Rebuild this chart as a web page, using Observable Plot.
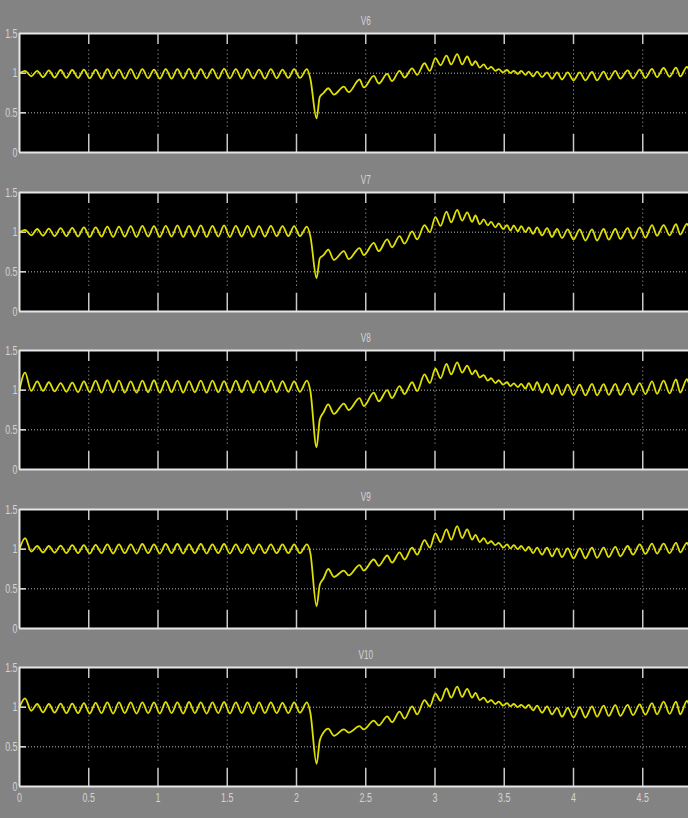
<!DOCTYPE html>
<html>
<head>
<meta charset="utf-8">
<script src="https://cdn.jsdelivr.net/npm/d3@7"></script>
<script src="https://cdn.jsdelivr.net/npm/@observablehq/plot@0.6"></script>
<style>
  html, body { margin: 0; padding: 0; background: #838383; }
  #chart { width: 688px; height: 818px; overflow: hidden; background: #838383; }
  #chart svg { display: block; }
</style>
</head>
<body>
<div id="chart"></div>
<script>
// ---- Data ----
const seriesNames = ["V6", "V7", "V8", "V9", "V10"];
const xTicks = [0, 0.5, 1, 1.5, 2, 2.5, 3, 3.5, 4, 4.5];
const xTickLabels = ["0", "0.5", "1", "1.5", "2", "2.5", "3", "3.5", "4", "4.5"];
const yTicks = [0, 0.5, 1, 1.5];
const yTickLabels = ["0", "0.5", "1", "1.5"];
const gridY = [0.5, 1];

// time (s) of each read-off extremum, shared by all five traces
const times = [
  0, 0.040, 0.085,
  0.128, 0.170, 0.212, 0.254, 0.297, 0.339, 0.381, 0.423, 0.465, 0.507, 0.550, 0.592, 0.634, 0.676, 0.718, 0.760, 0.803, 0.845, 0.887, 0.929, 0.971, 1.013,
  1.056, 1.098, 1.140, 1.182, 1.224, 1.266, 1.309, 1.351, 1.393, 1.435, 1.477, 1.519, 1.562, 1.604, 1.646, 1.688, 1.730, 1.772, 1.815, 1.857, 1.899, 1.941, 1.983, 2.025,
  2.075,
  2.100, 2.145, 2.168, 2.195,
  2.229, 2.270, 2.342, 2.377, 2.455, 2.486, 2.558, 2.594, 2.655, 2.690,
  2.744, 2.780, 2.835, 2.871, 2.924, 2.963, 3.003, 3.040, 3.083, 3.117,
  3.160, 3.196, 3.232, 3.268, 3.292, 3.323, 3.352, 3.381, 3.405, 3.436,
  3.460, 3.492, 3.520, 3.545, 3.569, 3.598, 3.622, 3.653, 3.677, 3.708,
  3.737, 3.773, 3.809, 3.845, 3.881, 3.917, 3.958, 4.000, 4.045, 4.086,
  4.134, 4.170, 4.218, 4.254, 4.302, 4.338, 4.391, 4.430, 4.478, 4.519,
  4.567, 4.603, 4.651, 4.694, 4.740, 4.771, 4.819, 4.830
];

const v6 = [
  1.00, 1.03, 0.96,
  1.03,0.95, 1.035,0.945, 1.04,0.94, 1.04,0.94, 1.045,0.935, 1.045,0.93, 1.05,0.935, 1.045,0.93, 1.05,0.93, 1.05,0.935, 1.045,0.93,
  1.05,0.93, 1.05,0.935, 1.055,0.93, 1.05,0.935, 1.05,0.93, 1.055,0.935, 1.05,0.93, 1.05,0.935, 1.045,0.93, 1.05,0.935, 1.045,0.94, 1.05,0.94,
  1.05,
  0.93, 0.43, 0.70, 0.75,
  0.81, 0.73, 0.83, 0.76, 0.92, 0.82, 0.965, 0.87, 0.99, 0.90,
  1.03, 0.945, 1.06, 0.98, 1.125, 1.03, 1.19, 1.10, 1.22, 1.11,
  1.24, 1.11, 1.21, 1.10, 1.15, 1.07, 1.11, 1.05, 1.08, 1.03,
  1.05, 1.01, 1.04, 1.00, 1.03, 0.99, 1.03, 0.98, 1.02, 0.96,
  1.02, 0.95, 1.01, 0.93, 1.01, 0.92, 1.01, 0.91, 1.01, 0.91,
  1.015, 0.91, 1.02, 0.92, 1.03, 0.93, 1.035, 0.935, 1.045, 0.94,
  1.055, 0.95, 1.065, 0.955, 1.07, 0.96, 1.08, 1.06
];

const v7 = [
  1.00, 1.03, 0.96,
  1.04,0.955, 1.045,0.95, 1.05,0.95, 1.055,0.945, 1.06,0.94, 1.06,0.945, 1.07,0.94, 1.07,0.945, 1.075,0.94, 1.08,0.945, 1.075,0.94,
  1.08,0.945, 1.085,0.94, 1.08,0.945, 1.085,0.94, 1.08,0.945, 1.085,0.94, 1.08,0.945, 1.08,0.94, 1.075,0.945, 1.08,0.95, 1.075,0.95, 1.075,0.95,
  1.07,
  0.95, 0.42, 0.67, 0.71,
  0.78, 0.65, 0.76, 0.66, 0.80, 0.71, 0.865, 0.76, 0.91, 0.81,
  0.95, 0.855, 1.01, 0.91, 1.09, 1.00, 1.19, 1.08, 1.26, 1.125,
  1.28, 1.145, 1.25, 1.13, 1.21, 1.10, 1.16, 1.085, 1.13, 1.06,
  1.11, 1.04, 1.09, 1.02, 1.085, 1.01, 1.075, 1.00, 1.06, 0.98,
  1.06, 0.96, 1.05, 0.94, 1.04, 0.925, 1.035, 0.91, 1.035, 0.895,
  1.035, 0.895, 1.04, 0.905, 1.04, 0.915, 1.05, 0.92, 1.06, 0.93,
  1.09, 0.955, 1.09, 0.96, 1.10, 0.97, 1.105, 1.08
];

const v8 = [
  1.00, 1.22, 0.99,
  1.11,0.99, 1.10,0.985, 1.09,0.98, 1.095,0.975, 1.11,0.975, 1.12,0.97, 1.125,0.975, 1.12,0.97, 1.11,0.97, 1.12,0.975, 1.125,0.97,
  1.12,0.975, 1.12,0.97, 1.115,0.975, 1.12,0.97, 1.12,0.975, 1.115,0.97, 1.12,0.975, 1.12,0.97, 1.115,0.975, 1.12,0.975, 1.115,0.98, 1.11,0.98,
  1.12,
  0.99, 0.28, 0.63, 0.72,
  0.82, 0.70, 0.83, 0.75, 0.90, 0.80, 0.97, 0.86, 1.00, 0.90,
  1.05, 0.95, 1.10, 0.99, 1.20, 1.09, 1.27, 1.15, 1.33, 1.20,
  1.35, 1.22, 1.31, 1.20, 1.25, 1.16, 1.19, 1.12, 1.15, 1.09,
  1.125, 1.07, 1.10, 1.05, 1.085, 1.04, 1.08, 1.02, 1.09, 1.00,
  1.10, 0.97, 1.08, 0.95, 1.07, 0.94, 1.07, 0.935, 1.07, 0.935,
  1.08, 0.935, 1.075, 0.94, 1.08, 0.94, 1.085, 0.945, 1.09, 0.95,
  1.11, 0.955, 1.12, 0.96, 1.135, 0.97, 1.14, 1.10
];

const v9 = [
  1.00, 1.14, 0.97,
  1.04,0.96, 1.04,0.955, 1.045,0.95, 1.05,0.95, 1.05,0.945, 1.055,0.95, 1.06,0.945, 1.06,0.95, 1.06,0.945, 1.065,0.95, 1.06,0.945,
  1.065,0.95, 1.065,0.945, 1.06,0.95, 1.065,0.945, 1.06,0.95, 1.065,0.945, 1.06,0.95, 1.06,0.945, 1.06,0.95, 1.06,0.95, 1.06,0.95, 1.06,0.95,
  1.06,
  0.95, 0.28, 0.55, 0.63,
  0.75, 0.65, 0.73, 0.67, 0.80, 0.73, 0.87, 0.79, 0.92, 0.83,
  0.96, 0.87, 1.02, 0.93, 1.115, 1.02, 1.20, 1.09, 1.25, 1.12,
  1.29, 1.14, 1.25, 1.12, 1.18, 1.09, 1.14, 1.07, 1.10, 1.05,
  1.08, 1.02, 1.06, 1.01, 1.05, 1.00, 1.04, 0.98, 1.03, 0.95,
  1.02, 0.93, 1.02, 0.91, 1.01, 0.90, 1.01, 0.885, 1.01, 0.885,
  1.02, 0.89, 1.02, 0.90, 1.03, 0.91, 1.04, 0.93, 1.06, 0.94,
  1.07, 0.945, 1.07, 0.95, 1.08, 0.96, 1.08, 1.05
];

const v10 = [
  1.00, 1.11, 0.955,
  1.04,0.935, 1.04,0.93, 1.045,0.925, 1.045,0.925, 1.05,0.92, 1.055,0.925, 1.06,0.92, 1.06,0.925, 1.06,0.92, 1.06,0.925, 1.06,0.92,
  1.065,0.925, 1.06,0.92, 1.065,0.925, 1.06,0.92, 1.06,0.925, 1.065,0.92, 1.06,0.925, 1.06,0.92, 1.06,0.925, 1.06,0.925, 1.055,0.925, 1.06,0.93,
  1.06,
  0.93, 0.285, 0.58, 0.68,
  0.73, 0.64, 0.72, 0.68, 0.76, 0.72, 0.83, 0.77, 0.885, 0.81,
  0.945, 0.855, 1.01, 0.91, 1.09, 1.01, 1.17, 1.08, 1.235, 1.12,
  1.26, 1.13, 1.23, 1.12, 1.18, 1.09, 1.12, 1.06, 1.09, 1.04,
  1.07, 1.02, 1.05, 1.01, 1.04, 1.00, 1.03, 0.99, 1.03, 0.96,
  1.02, 0.93, 1.01, 0.91, 0.99, 0.88, 0.99, 0.87, 1.00, 0.87,
  1.01, 0.88, 1.02, 0.89, 1.025, 0.89, 1.03, 0.90, 1.035, 0.905,
  1.05, 0.91, 1.07, 0.915, 1.07, 0.91, 1.08, 1.05
];

const seriesValues = [v6, v7, v8, v9, v10];

// ---- Layout ----
const panelHeights = [159, 158, 159, 158, 184];
const plotTop = 33, plotH = 119;
const fontFamily = "'Liberation Sans', Arial, sans-serif";
const chart = document.getElementById("chart");

seriesNames.forEach((name, i) => {
  const vals = seriesValues[i];
  const n = Math.min(times.length, vals.length);
  const data = [];
  for (let j = 0; j < n; j++) data.push({t: times[j], v: vals[j]});
  const h = panelHeights[i];
  const last = i === seriesNames.length - 1;
  const inner = xTicks.slice(1);
  const svg = Plot.plot({
    width: 688,
    height: h,
    marginLeft: 19,
    marginRight: 0,
    marginTop: plotTop,
    marginBottom: h - plotTop - plotH,
    x: {domain: [0, 5], range: [19, 711.5], axis: null},
    y: {domain: [0, 1.5], axis: null},
    style: {background: "transparent", color: "#d4d4d4", fontFamily, fontSize: "13px", overflow: "hidden"},
    marks: [
      Plot.frame({fill: "black"}),
      Plot.ruleY(gridY, {stroke: "#b8b8b8", strokeDasharray: "1,2"}),
      Plot.ruleX(inner, {y1: 1.29, y2: 0.28, stroke: "#b8b8b8", strokeDasharray: "1,3"}),
      Plot.ruleX(inner, {y1: 1.5, y2: 1.36, stroke: "#c8c8c8", strokeWidth: 1.5}),
      Plot.ruleX(inner, {y1: 0.23, y2: 0, stroke: "#c8c8c8", strokeWidth: 1.5}),
      Plot.ruleY(gridY, {x1: 0, x2: 0.05, stroke: "#e0e0e0", strokeWidth: 1.5}),
      Plot.line(data, {x: "t", y: "v", stroke: "#e0e000", strokeWidth: 1.8, curve: "monotone-x"}),
      Plot.ruleY([0, 1.5], {stroke: "#e6e6e6", strokeWidth: 2}),
      Plot.ruleX([0], {stroke: "#e6e6e6", strokeWidth: 2}),
      Plot.axisY(yTicks, {tickFormat: d => yTickLabels[yTicks.indexOf(d)], tickSize: 0, tickPadding: 2, label: null}),
      last ? Plot.axisX(xTicks, {tickFormat: d => xTickLabels[xTicks.indexOf(d)], tickSize: 0, tickPadding: 6, label: null}) : null,
      Plot.text([name], {x: 2.5, frameAnchor: "top", dy: -17, fill: "#d4d4d4", fontSize: 12})
    ]
  });
  // narrow the lettering like the reference's condensed font
  svg.querySelectorAll("text").forEach(t => {
    const tr = t.getAttribute("transform");
    if (tr && /^translate/.test(tr)) t.setAttribute("transform", tr + " scale(0.68,1)");
  });
  chart.appendChild(svg);
});
</script>
</body>
</html>
